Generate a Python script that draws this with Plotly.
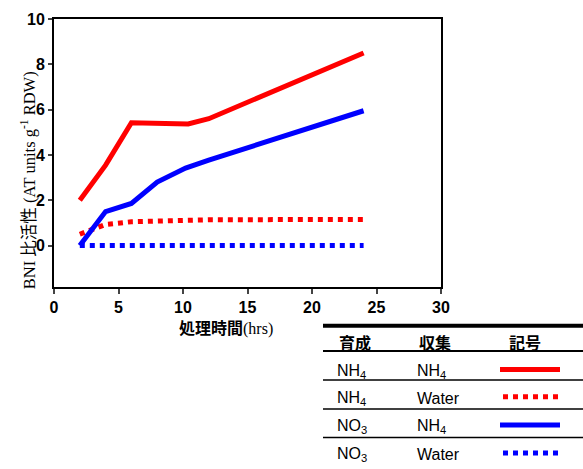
import plotly.graph_objects as go

# ---------------- data ----------------
x_nh4_nh4 = [2, 4, 6, 8, 10.4, 12, 24]
y_nh4_nh4 = [2.0, 3.55, 5.42, 5.40, 5.37, 5.6, 8.5]

x_nh4_water = [2, 4, 6, 8, 10.4, 12, 24]
y_nh4_water = [0.5, 0.93, 1.05, 1.07, 1.1, 1.14, 1.15]

x_no3_nh4 = [2, 4, 6, 8, 10.2, 12, 24]
y_no3_nh4 = [0.0, 1.5, 1.86, 2.8, 3.42, 3.77, 5.95]

x_no3_water = [2, 4, 6, 8, 10, 12, 24]
y_no3_water = [0, 0, 0, 0, 0, 0, 0]

x_ticks = [0, 5, 10, 15, 20, 25, 30]
y_ticks = [0, 2, 4, 6, 8, 10]

table_header = ["育成", "収集", "記号"]
table_grow = ["NH<sub>4</sub>", "NH<sub>4</sub>", "NO<sub>3</sub>", "NO<sub>3</sub>"]
table_collect = ["NH<sub>4</sub>", "Water", "NH<sub>4</sub>", "Water"]
table_color = ["#FF0000", "#FF0000", "#0000FF", "#0000FF"]
table_dash = ["solid", "dot", "solid", "dot"]

# ---------------- layout helpers ----------------
W, H = 583, 469
L, R, T, B = 54, 142, 11, 182
PW, PH = W - L - R, H - T - B


def px(x):
    return (x - L) / PW


def py(y):
    return (H - B - y) / PH


fig = go.Figure()
series = [
    (x_nh4_nh4, y_nh4_nh4, "#FF0000", "solid"),
    (x_nh4_water, y_nh4_water, "#FF0000", "dot"),
    (x_no3_nh4, y_no3_nh4, "#0000FF", "solid"),
    (x_no3_water, y_no3_water, "#0000FF", "dot"),
]
for xs, ys, c, d in series:
    fig.add_trace(go.Scatter(x=xs, y=ys, mode="lines",
                             line=dict(color=c, width=5, dash=d),
                             showlegend=False, hoverinfo="skip"))

tickfont = dict(family="Liberation Sans", size=16, color="black", weight="bold")
fig.update_xaxes(range=[0, 30], tickvals=x_ticks, ticks="outside", ticklen=5,
                 tickwidth=2, showline=True, linewidth=2, linecolor="black",
                 mirror=True, showgrid=False, zeroline=False, tickfont=tickfont)
fig.update_yaxes(range=[-1.83, 10], tickvals=y_ticks, ticks="outside", ticklen=4,
                 tickwidth=1.5, showline=True, linewidth=2, linecolor="black",
                 mirror=True, showgrid=False, zeroline=False, tickfont=tickfont)

annotations = []
# axis titles
annotations.append(dict(
    x=px(28), y=py(177), xref="paper", yref="paper", textangle=-90,
    text="BNI 比活性 (AT units g<sup>-1</sup> RDW)", showarrow=False,
    font=dict(family="Liberation Serif, Noto Sans CJK JP", size=16.5, color="black"),
    xanchor="center", yanchor="middle"))
annotations.append(dict(
    x=px(226), y=py(328), xref="paper", yref="paper",
    text="<b>処理時間</b><span style=\"font-family:'Liberation Serif'\">(hrs)</span>",
    showarrow=False,
    font=dict(family="Noto Sans CJK JP", size=16, color="black"),
    xanchor="center", yanchor="middle"))

shapes = []
# table lines
shapes.append(dict(type="line", xref="paper", yref="paper", x0=px(323), x1=px(583),
                   y0=py(327), y1=py(327), line=dict(color="black", width=4)))
for yy, w in [(353, 2), (382.7, 1.5), (412.7, 1.5), (442, 1.5)]:
    shapes.append(dict(type="line", xref="paper", yref="paper", x0=px(323), x1=px(583),
                       y0=py(yy), y1=py(yy), line=dict(color="black", width=w)))

cell_font = dict(family="Liberation Sans, Noto Sans CJK JP", size=16, color="black")
head_x = [337, 417, 525]
head_anchor = ["left", "left", "center"]
for t, hx, ha in zip(table_header, head_x, head_anchor):
    annotations.append(dict(x=px(hx), y=py(344), xref="paper", yref="paper", text=t,
                            showarrow=False, xanchor=ha, yanchor="middle",
                            font=dict(family="Noto Sans CJK JP", size=16,
                                      color="black", weight="bold")))

row_y = [372, 400, 429, 458]
for i in range(4):
    annotations.append(dict(x=px(335), y=py(row_y[i] + 2), xref="paper", yref="paper",
                            text=table_grow[i], showarrow=False, xanchor="left",
                            yanchor="middle", font=cell_font))
    annotations.append(dict(x=px(415), y=py(row_y[i] + 2), xref="paper", yref="paper",
                            text=table_collect[i], showarrow=False, xanchor="left",
                            yanchor="middle", font=cell_font))
    x0, x1 = (500, 560) if table_dash[i] == "solid" else (503, 562)
    shapes.append(dict(type="line", xref="paper", yref="paper", x0=px(x0), x1=px(x1),
                       y0=py(row_y[i]), y1=py(row_y[i]),
                       line=dict(color=table_color[i], width=5, dash=table_dash[i])))

fig.update_layout(width=W, height=H, margin=dict(l=L, r=R, t=T, b=B),
                  plot_bgcolor="white", paper_bgcolor="white",
                  annotations=annotations, shapes=shapes)

fig.write_html("out.html", config={"displayModeBar": False},
               post_script="document.body.style.margin='0px';"
                           "document.body.style.overflow='hidden';")
